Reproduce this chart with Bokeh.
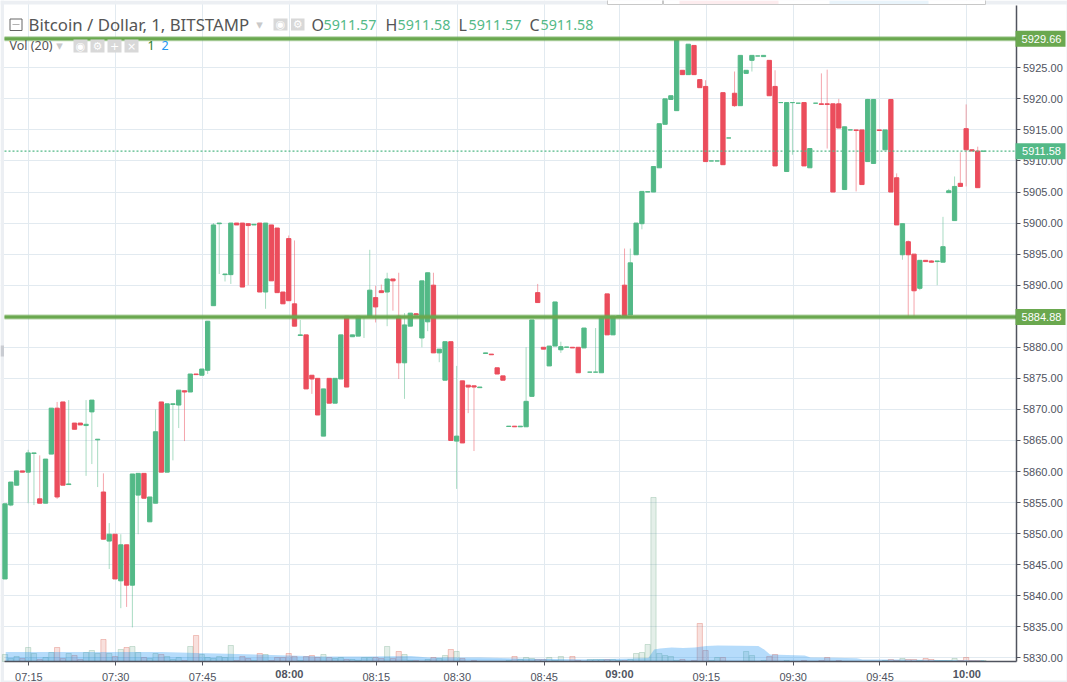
from bokeh.plotting import figure
from bokeh.models import (Range1d, FixedTicker, Label, BoxAnnotation,
                          ColumnDataSource, NumeralTickFormatter)
from bokeh.embed import file_html
from bokeh.resources import INLINE

# ---------- data ----------
opens = [5842.7,5854.6,5857.8,5860.1,5859.9,5862.9,5855.6,5854.9,5862.8,5870.2,
5871.2,5857.9,5867.8,5867.8,5867.4,5869.6,5865.1,5856.7,5848.8,5849.9,
5842.4,5848.2,5841.7,5856.2,5859.7,5851.9,5854.9,5871.2,5859.9,5870.8,
5870.7,5873.0,5872.8,5875.7,5875.5,5876.3,5886.7,5899.9,5891.7,5891.7,
5900,5900,5899.9,5899.7,5900,5888.9,5899.7,5899.2,5888.9,5897.5,
5887,5881.9,5882,5875.5,5875,5865.7,5875,5871,5874.9,5885,
5881.7,5881.8,5884.8,5884.9,5888,5889.1,5888.9,5891,5885,5877.5,
5883.4,5885.4,5881.5,5884.1,5890,5879.1,5874.7,5880.9,5864.9,5874.6,
5873.9,5873.8,5873.5,5879.0,5878.9,5876.7,5875.4,5867.25,5867.3,5867.2,
5867.2,5872.1,5888.8,5880,5877,5880.2,5879.6,5880,5880,5880,
5879.9,5876,5876,5875.9,5888.6,5882,5885,5890,5885.2,5894.9,
5899.9,5905,5905,5908.9,5915.9,5919.9,5918.1,5924.6,5923.9,5928.6,
5923.1,5922,5910,5910,5921,5913.7,5920.9,5918.9,5924.1,5926.2,
5926.9,5926.8,5926.2,5922,5919.4,5908.3,5919.4,5919.3,5919.4,5908.9,
5919.3,5919.2,5919.2,5919.2,5919.2,5905.4,5915,5915,5915,5909.9,
5909.6,5915,5911.8,5919.9,5907.3,5894.9,5897,5895,5889.5,5894,
5893.9,5893.8,5893.7,5904.9,5900.4,5906.4,5915.2,5911.8,5911.6,5911.57]
closes = [5854.8,5858.3,5860.1,5859.9,5863.0,5863.0,5854.9,5862.0,5870.2,5855.9,
5857.8,5858.0,5866.8,5867.5,5867.6,5871.5,5865.2,5849.1,5849.9,5842.7,
5848.2,5841.7,5859.6,5859.7,5855.7,5855.9,5866.4,5859.9,5870.9,5870.9,
5873.1,5872.8,5875.7,5875.6,5876.5,5884.2,5899.7,5900,5891.8,5900,
5899.7,5889.7,5899.6,5899.8,5888.9,5900,5890.7,5888.8,5887,5887.5,
5883.4,5882,5873.3,5874.9,5869.1,5873.3,5871,5875,5882,5873.6,
5882,5885,5884.9,5889.2,5886.5,5888.8,5891,5890.7,5877.5,5883.6,
5885.5,5885.2,5890.7,5892,5879.1,5879.7,5880.9,5865,5865.7,5864.6,
5873.6,5873.6,5873.6,5879.1,5878.8,5875.7,5874.7,5867.3,5867.2,5867.3,
5871.3,5884.4,5887.2,5879.7,5880.2,5887.3,5880.1,5880.05,5879.9,5875.9,
5883.1,5876,5876,5884.7,5882,5885,5885.05,5884.9,5893.6,5900,
5905.1,5905.05,5909.1,5916,5920,5920.5,5929.7,5923.9,5928.8,5923.9,
5921.8,5909.9,5910,5910,5909.4,5913.7,5918.9,5927,5924.6,5927,
5926.9,5927,5920.5,5909.2,5919.4,5919.4,5919.4,5919.3,5909.2,5912,
5919.3,5919.1,5919.1,5905,5915.3,5915.5,5915,5914.9,5906.2,5919.9,
5919.9,5914.9,5915,5905,5899.7,5899.9,5894.9,5889.1,5894,5893.8,
5893.7,5893.9,5896.2,5905.2,5905.9,5905.9,5911.8,5911.6,5905.7,5911.58]
highs = [5854.8,5858.3,5860.1,5860.1,5863.5,5863.0,5862.6,5862.0,5870.2,5871.2,
5871.2,5871.5,5867.8,5867.8,5871.5,5871.5,5865.2,5859.7,5851.7,5849.9,
5849.9,5848.2,5859.6,5859.7,5859.7,5855.9,5870,5871.2,5870.9,5870.9,
5873.1,5873.0,5875.7,5875.7,5876.5,5884.2,5900,5900,5891.8,5900,
5900,5900,5900,5899.8,5900,5900,5899.7,5899.2,5888.9,5898,
5897.2,5884.4,5882,5875.5,5875,5873.3,5875,5875,5882,5885,
5882,5885,5884.9,5895.7,5889.9,5890.1,5892,5891,5892,5885.5,
5885.5,5885.5,5890.7,5892,5892,5879.7,5880.9,5880.9,5877,5874.6,
5873.9,5873.8,5873.6,5879.1,5878.9,5876.7,5875.4,5867.3,5867.3,5867.3,
5880,5884.4,5890.2,5880,5880.2,5887.3,5880.9,5880.05,5880,5880,
5883.1,5876,5883.1,5884.7,5888.6,5885,5885.05,5895.9,5895.9,5900,
5905.1,5905.05,5909.1,5916,5920,5920.5,5929.7,5924.6,5928.8,5928.6,
5923.1,5923,5910,5910,5921,5913.7,5924.4,5927,5924.6,5927,
5926.9,5927,5926.2,5924.6,5919.4,5919.4,5919.4,5919.3,5919.4,5912,
5919.3,5924.1,5924.7,5919.2,5920,5915.5,5915,5915,5915,5920,
5919.9,5915,5915,5919.9,5908,5899.9,5897.2,5895,5894,5894,
5894,5893.9,5901,5905.5,5907.5,5911.4,5919.1,5911.8,5912.3,5911.58]
lows = [5842.7,5854.4,5857.8,5859.9,5854.9,5854.6,5854.9,5854.9,5862.8,5855.6,
5857.8,5857.9,5866.8,5867.5,5859.3,5861.2,5857.5,5849.1,5844.3,5842.7,
5838.0,5838.2,5834.9,5849.9,5855.7,5851.9,5854.9,5859.9,5859.9,5861.8,
5867,5864.9,5872.8,5875.6,5875.5,5875.7,5886.7,5891.8,5890.6,5890.2,
5899.7,5889.7,5890,5899.7,5888.9,5886.2,5890.7,5888.8,5887,5887.5,
5883.4,5881.9,5873.3,5872.5,5869.1,5865.7,5871,5871,5874.9,5873.6,
5881.7,5881.8,5881.5,5884.9,5884,5888.8,5883.4,5885.9,5874.9,5871.7,
5883.4,5885.2,5880,5882.6,5879.1,5877.6,5874.7,5865,5857.2,5864.6,
5869.4,5863.3,5873.5,5879,5878.8,5875.7,5874.7,5867.25,5867.2,5867.2,
5867.2,5872.1,5887.2,5879.7,5877,5880.2,5879.1,5880,5879.9,5875.9,
5879.9,5876,5876,5875.9,5882,5882,5885,5884.9,5885.2,5894.9,
5899,5905,5905,5908.9,5915.9,5919.9,5918.1,5923.9,5923.9,5923.9,
5921.8,5909.9,5910,5910,5909.4,5913.7,5918.7,5918.9,5924.1,5924.4,
5926.9,5926.8,5920.5,5909.2,5919.4,5908.3,5911,5919.3,5909.2,5908.9,
5919.3,5919.1,5912,5905,5915.3,5905.4,5915,5905.1,5906.2,5909.9,
5909.6,5914.9,5911.8,5905,5899.7,5894.1,5884.9,5884.9,5889.2,5893.8,
5893.7,5890,5893.7,5904.9,5900.4,5905.9,5905.9,5911.6,5905.7,5911.57]
volumes = [7,3,5,3,14,8,2,4,9,14, 3,8,6,2,9,11,8,22,8,5,
12,14,15,9,4,3,8,7,5,2, 4,1,15,26,7,4,3,5,4,16,
1,5,3,1,8,7,1,4,4,8, 5,1,5,6,4,7,4,3,4,2,
2,1,4,4,4,3,15,3,10,7, 1,1,0,2,4,3,6,12,10,3,
0,1,0,0,0,0,0,1,5,2, 4,3,2,2,4,1,5,0,5,1,
0,2,2,2,2,2,1,1,2,8, 9,17,164,8,6,5,1,2,0,1,
38,11,1,4,4,0,0,0,10,6, 0,1,5,7,0,1,0,0,1,0,
0,1,4,0,1,0,0,0,0,0, 0,0,1,2,1,3,2,2,1,3,
2,1,1,1,3,1,4,1,1,1]
ma_bars = [0,14,27,33,40,55,62,70,73,82,88,100,108,111,112,113,115,117,119,121,123,130,131,132,138,139,143,147,148,154,169]
ma_long = [9.5,9.5,9.5,8.5,7.5,5,5,5.5,4,4,3,2,3,3.5,12,13,14,13.5,14,15.5,16,15.5,12,7,6,4,3.7,3.3,2,2,1]
ma_short_bars = [0,30,60,108,169]
ma_short = [4.5,4.5,3,2,1]
tick_bars = [4,19,34,49,64,78,93,106,121,136,151,166]
tick_labels = ["07:15","07:30","07:45","08:00","08:15","08:30","08:45","09:00","09:15","09:30","09:45","10:00"]
bold_ticks = ["08:00","09:00","10:00"]
price_ticks = [5830,5835,5840,5845,5850,5855,5860,5865,5870,5875,5880,5890,5895,5900,5905,5910,5915,5920,5925]
level_high, level_low, last_price = 5929.66, 5884.88, 5911.58
title = "Bitcoin / Dollar, 1, BITSTAMP"
ohlc = [("O","5911.57"),("H","5911.58"),("L","5911.57"),("C","5911.58")]

# ---------- pixel geometry of the chart area ----------
BAR0, BARDX = 5.2, 5.79
PL, PR, PT, PB = 4, 1015.5, 5, 661      # plot area edges in page pixels
W, H = 1067, 682
CANDLE_SHIFT = -0.12                    # candles sit just left of their grid line
def xd(px): return (px - BAR0) / BARDX
def yd(py): return 5925 - (py - 67.3) / 6.211
def py_of(v): return 67.3 + (5925 - v) * 6.211

p = figure(width=W, height=H, output_backend="svg", toolbar_location=None,
           x_range=Range1d(xd(0), xd(W)), y_range=Range1d(yd(H), yd(0)),
           x_axis_location="below", y_axis_location="right",
           min_border=0, min_border_left=0, min_border_top=0, min_border_right=0, min_border_bottom=0,
           background_fill_color="white", border_fill_color="white", outline_line_color=None)
p.extra_y_ranges = {"vol": Range1d(PB - H, PB)}

AX = "#50535e"; TXT = "#4f5360"; GRID = "#e2eaf0"
UP = "#53b987"; DN = "#eb4d5c"; LEVEL = "#6aa84f"
xax = p.xaxis[0]; yax = p.yaxis[0]
xax.fixed_location = yd(PB); yax.fixed_location = xd(PR)
xax.bounds = (xd(PL), xd(PR)); yax.bounds = (yd(PB), yd(PT))
xax.ticker = FixedTicker(ticks=tick_bars)
xax.major_label_overrides = {b: ("" if l in bold_ticks else l) for b, l in zip(tick_bars, tick_labels)}
yax.ticker = FixedTicker(ticks=price_ticks)
yax.formatter = NumeralTickFormatter(format="0.00")
for a in (xax, yax):
    a.axis_line_color = AX; a.axis_line_width = 1.5
    a.major_tick_line_color = AX; a.major_tick_out = 4; a.major_tick_in = 0
    a.minor_tick_line_color = None
    a.major_label_text_font = "Liberation Sans"
    a.major_label_text_font_size = "11px"
    a.major_label_text_color = TXT
xax.major_label_standoff = 5
yax.major_label_standoff = 3
p.xgrid.grid_line_color = GRID; p.ygrid.grid_line_color = GRID
p.xgrid.grid_line_width = 1; p.ygrid.grid_line_width = 1

def box(l, r, t, b, fill, line=None, level="overlay"):
    p.add_layout(BoxAnnotation(left=l, right=r, top=t, bottom=b, left_units="canvas", right_units="canvas",
                               top_units="canvas", bottom_units="canvas", fill_color=fill, fill_alpha=1,
                               line_color=line, line_alpha=1, level=level))
def ctext(px, py, s, size, color, font="Liberation Sans", style="normal"):
    p.add_layout(Label(x=px, x_units="canvas", y=py, y_units="canvas", text=s, text_color=color,
                       text_font=font, text_font_size=size, text_font_style=style, text_align="center",
                       text_baseline="middle", level="overlay"))

# panels round the plot area, over the grid and under axes and marks
OUT = "#eceff3"
box(PR, W, 0, H, "white", level="underlay")
box(0, W, PB, H, "white", level="underlay")
box(0, 3.5, 0, H, OUT, level="underlay")
box(0, W, 0, 4, OUT, level="underlay")
box(0, W, 680, H, OUT, level="underlay")
box(1066, W, 0, H, OUT, level="underlay")

xs = [i + CANDLE_SHIFT for i in range(len(opens))]
up = [c >= o for o, c in zip(opens, closes)]
src = ColumnDataSource(dict(
    x=xs, o=opens, c=closes, h=highs, l=lows,
    top=[max(o, c) for o, c in zip(opens, closes)],
    bot=[min(o, c) for o, c in zip(opens, closes)],
    col=[UP if u else DN for u in up]))

# volume
keep = [i for i, v in enumerate(volumes) if v > 0]
vsrc = ColumnDataSource(dict(x=[xs[i] for i in keep], v=[volumes[i] for i in keep],
                             c=["#6ba583" if up[i] else "#d75442" for i in keep]))
p.vbar(x="x", top="v", bottom=0, width=0.9, source=vsrc, y_range_name="vol",
       fill_color="c", fill_alpha=0.18, line_color="c", line_alpha=0.3)
p.varea(x=ma_bars, y1=[0] * len(ma_bars), y2=ma_long, y_range_name="vol", fill_color="#2196f3", fill_alpha=0.33)
p.varea(x=ma_short_bars, y1=[0] * len(ma_short_bars), y2=ma_short, y_range_name="vol", fill_color="#2196f3", fill_alpha=0.12)

# candles
p.segment(x0="x", x1="x", y0="l", y1="h", source=src, line_color="col", line_alpha=0.5, line_width=1)
p.vbar(x="x", top="top", bottom="bot", width=4.3 / BARDX, source=src, fill_color="col", line_color="col", line_width=1)

# levels
p.line(x=[xd(PL), xd(PR)], y=[last_price, last_price], line_color=UP, line_width=1.4, line_dash="2 2")
for lv in (level_high, level_low):
    p.line(x=[xd(PL), xd(PR)], y=[lv, lv], line_color=LEVEL, line_width=5, line_alpha=0.5)
    p.line(x=[xd(PL), xd(PR)], y=[lv, lv], line_color=LEVEL, line_width=3)

# price labels on the axis
for val, colr in ((level_high, LEVEL), (level_low, LEVEL), (last_price, UP)):
    py = py_of(val)
    box(1015, 1065, py - 8, py + 8, colr)
    ctext(1041, py, f"{val:.2f}", "11px", "white")

# bold hour ticks
for b, l in zip(tick_bars, tick_labels):
    if l in bold_ticks:
        ctext(BAR0 + BARDX * b, 673.5, l, "11px", TXT, style="bold")

# ---------- header texts ----------
def txt(px, py, s, size, color=TXT, font="Noto Sans"):
    p.add_layout(Label(x=px, x_units="canvas", y=py, y_units="canvas", text=s, text_color=color, text_font=font,
                       text_font_size=size, text_align="left", text_baseline="middle"))
txt(28, 24, title, "16.8px", "#555555")
for (letter, val), lx, vx in zip(ohlc, (311, 385, 458, 529), (323, 397, 468, 540)):
    txt(lx, 24, letter, "16px", "#555555")
    txt(vx, 24, val, "14.3px", UP)
txt(9, 45, "Vol (20)", "12.5px", "#555555")
txt(147, 45, "1", "12.5px", "#2e7d1e")
txt(161, 45, "2", "12.5px", "#2196f3")

# ---------- chrome ----------
box(607, 662, -2, 4, "white", "#c8c8c8"); box(663, 985, -2, 4, "white", "#c8c8c8")
box(679, 778, 0, 3.4, "#fdecee"); box(829, 928, 0, 3.4, "#e9f4fb")
box(0, 3.5, 345, 356, "#c9ccd2")
box(9.5, 21.5, 18.5, 30, "white", "#666666"); box(12, 19, 24, 24.6, "#666666")
ICON = "#d8d8d8"
for l, r, t, b, m in [(273, 287, 18, 30, "\u25c9"), (290.5, 304, 18, 30, "\u2699"),
                      (73, 87, 39, 52, "\u25c9"), (90, 104, 39, 52, "\u2699"),
                      (107, 121, 39, 52, "+"), (124, 138, 39, 52, "\u00d7")]:
    box(l, r, t, b, ICON)
    ctext((l + r) / 2, (t + b) / 2, m, "11px", "white", font="DejaVu Sans")
for px, py in ((259, 24), (59, 45)):
    ctext(px, py, "\u25be", "13px", "#c9c9c9", font="DejaVu Sans")

open("out.html", "w").write(file_html(p, INLINE))
